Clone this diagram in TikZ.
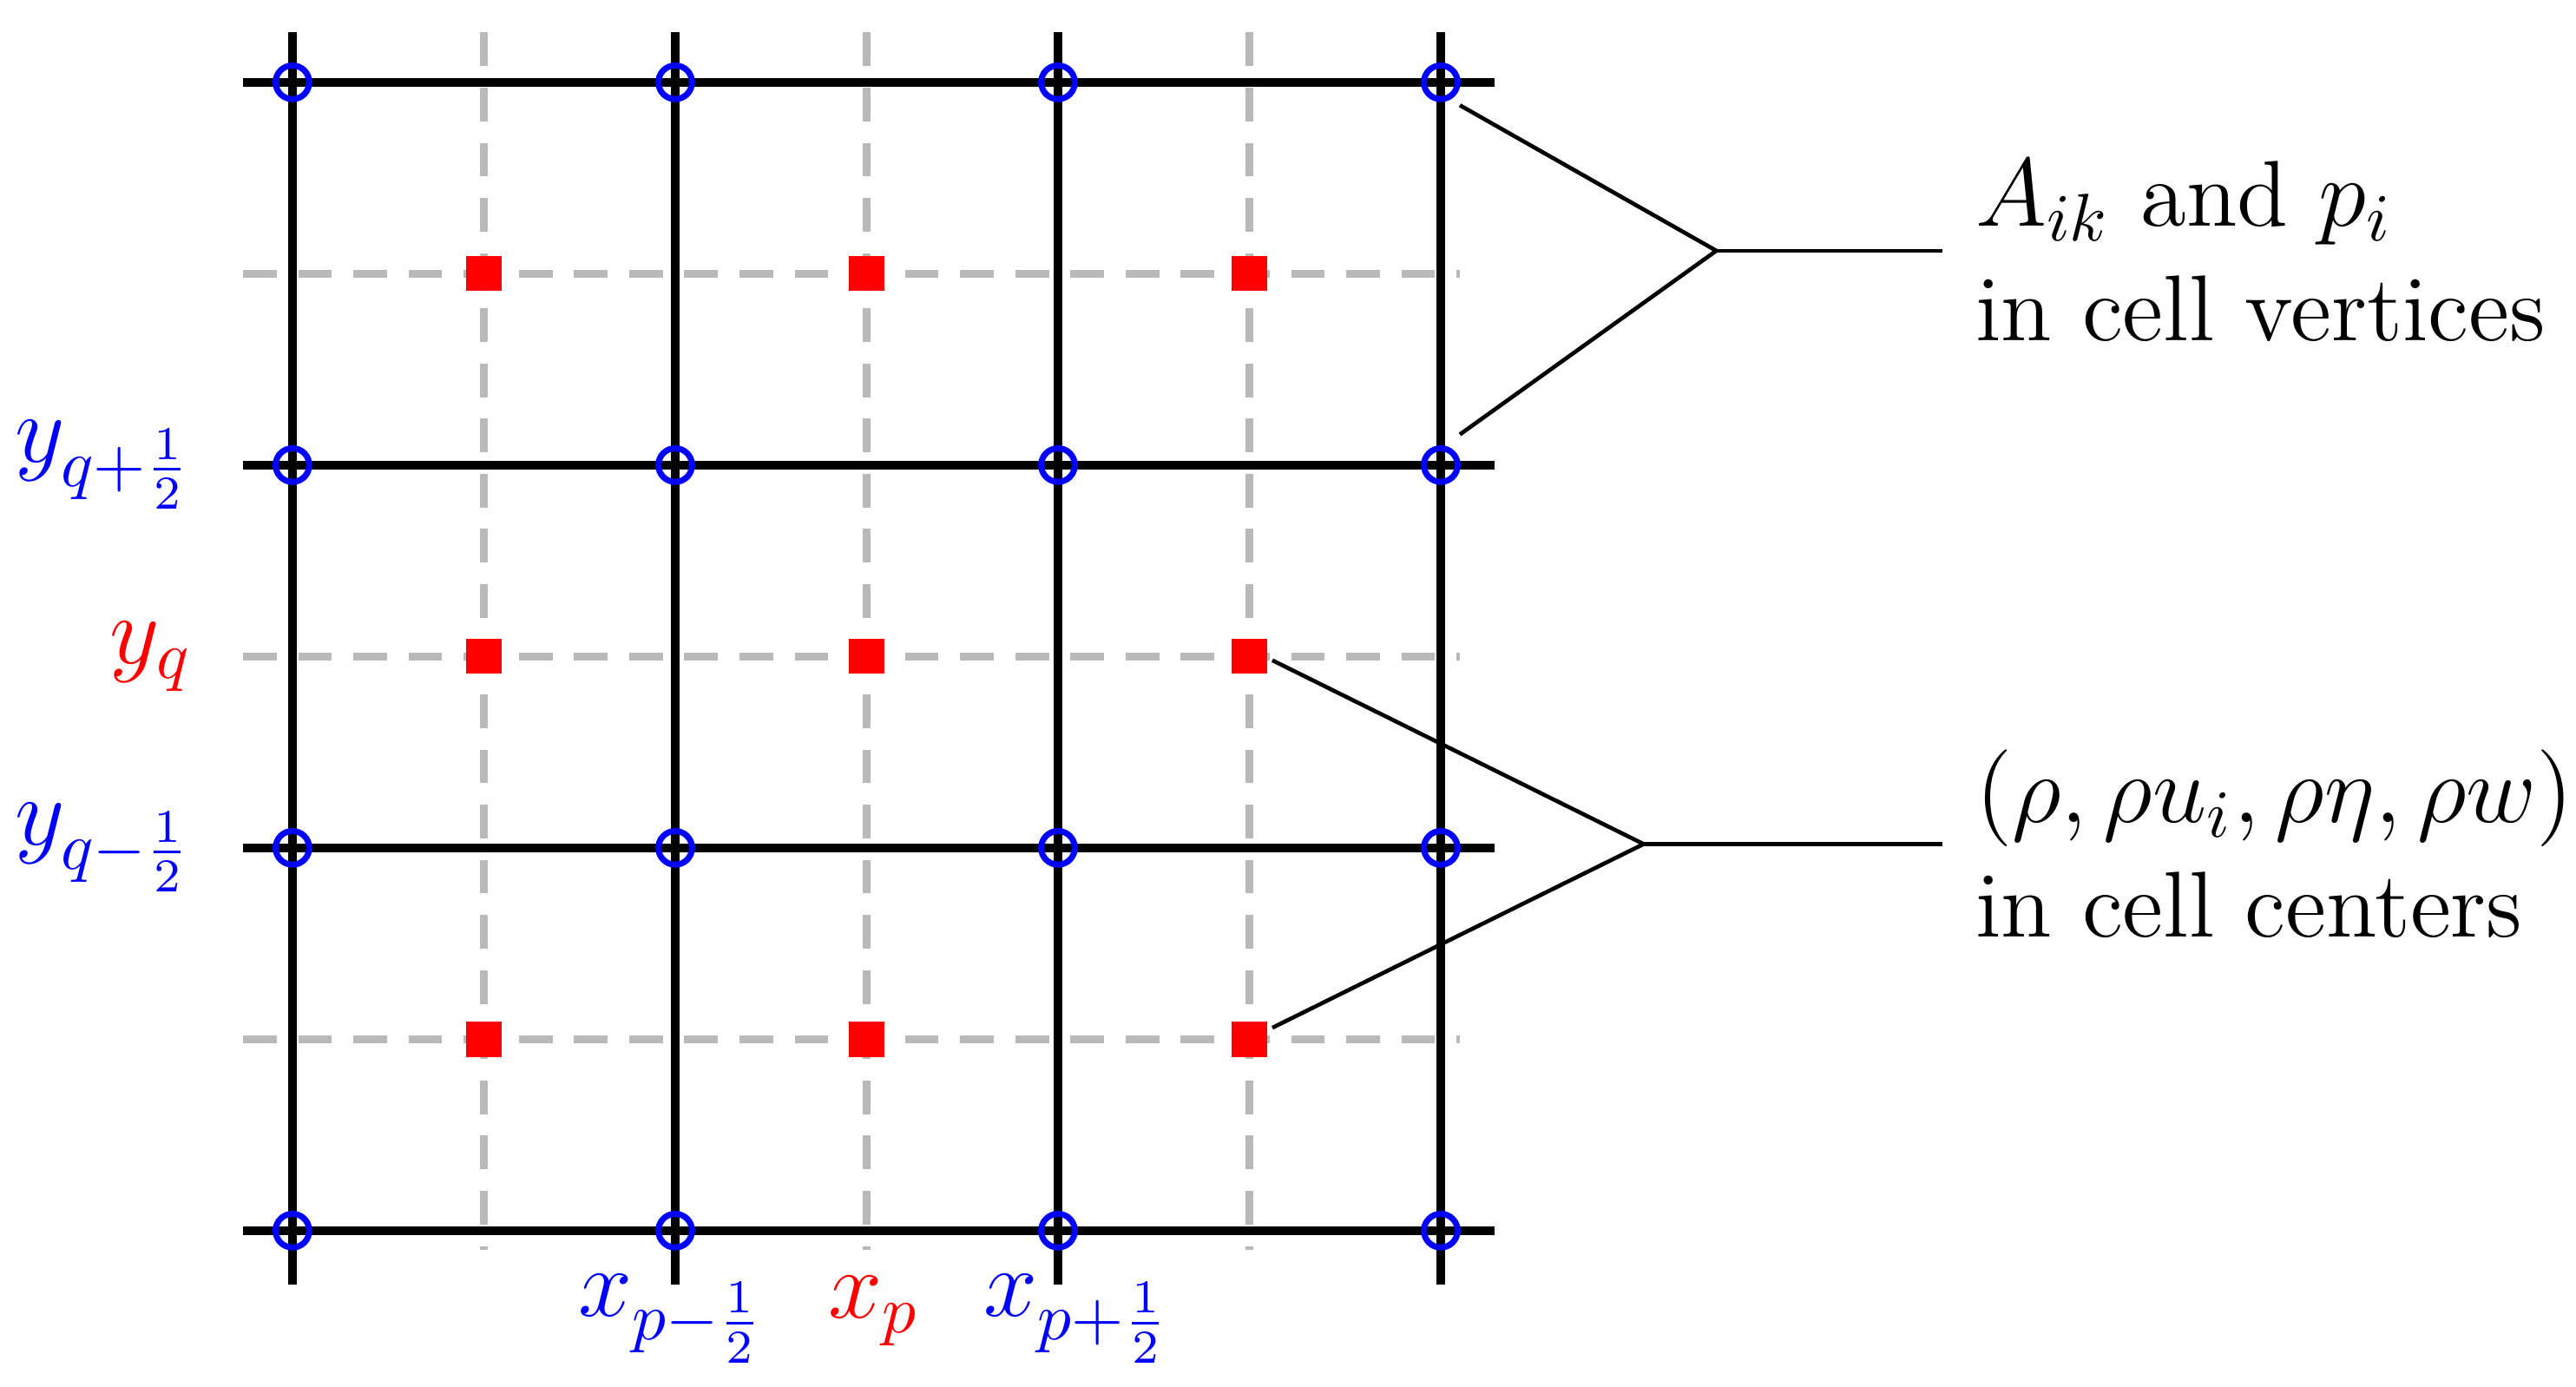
\documentclass[tikz,border=0pt]{standalone}
\begin{document}
\begin{tikzpicture}[x=2cm,y=2cm,font=\fontsize{13.9}{17}\selectfont,
  gridline/.style={line width=1.3pt,black},
  dashline/.style={line width=1.1pt,gray!55,dash pattern=on 5pt off 3.2pt},
  vert/.style={circle,draw=blue,line width=0.9pt,inner sep=0pt,minimum size=5pt},
  cen/.style={rectangle,fill=red,inner sep=0pt,minimum size=5.2pt},
  conn/.style={line width=0.6pt}]
\useasboundingbox (-0.764,-0.408) rectangle (5.966,3.215);
\foreach \i in {0.5,1.5,2.5}{
  \draw[dashline] (-0.129,\i) -- (3.05,\i);
  \draw[dashline] (\i,3.13) -- (\i,-0.05);}
\foreach \i in {0,1,2,3}{
  \draw[gridline] (-0.129,\i) -- (3.14,\i);
  \draw[gridline] (\i,3.13) -- (\i,-0.14);}
\foreach \i in {0,1,2,3}\foreach \j in {0,1,2,3}{\node[vert] (v\i\j) at (\i,\j) {};}
\foreach \i/\a in {0.5/0,1.5/1,2.5/2}\foreach \j/\b in {0.5/0,1.5/1,2.5/2}{\node[cen] (c\a\b) at (\i,\j) {};}
\node[blue,anchor=east] (lyp) at (-0.2,2) {$y_{q+\frac12}$};
\node[red,anchor=east] (lyq) at (-0.2,1.5) {$y_q$};
\node[blue,anchor=east] (lym) at (-0.2,1) {$y_{q-\frac12}$};
\node[blue] (lxm) at (0.99,-0.23) {$x_{p-\frac12}$};
\node[red] (lxp) at (1.52,-0.21) {$x_p$};
\node[blue] (lxq) at (2.05,-0.23) {$x_{p+\frac12}$};
\coordinate (a1) at (3.05,2.94); \coordinate (a2) at (3.05,2.08);
\coordinate (am) at (3.72,2.56); \coordinate (ae) at (4.31,2.56);
\coordinate (b1) at (2.56,1.49); \coordinate (b2) at (2.56,0.53);
\coordinate (bm) at (3.53,1.01); \coordinate (be) at (4.31,1.01);
\draw[conn] (a1) -- (am) -- (a2); \draw[conn] (am) -- (ae);
\draw[conn] (b1) -- (bm) -- (b2); \draw[conn] (bm) -- (be);
\node[anchor=west,align=left] (t1) at (4.335,2.56) {$A_{ik}$ and $p_i$\\in cell vertices};
\node[anchor=west,align=left] (t2) at (4.335,1.01) {$(\rho,\rho u_i,\rho\eta,\rho w)$\\in cell centers};
\end{tikzpicture}
\end{document}
